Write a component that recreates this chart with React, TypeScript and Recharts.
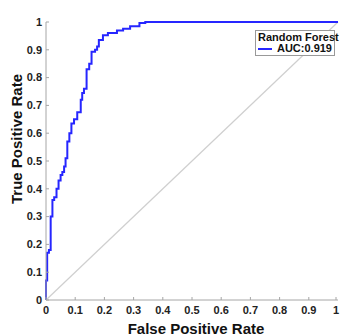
import {
  LineChart,
  Line,
  XAxis,
  YAxis,
  Legend,
} from "recharts";

// ROC points (top of each vertical step)
const fpr = [
  0, 0, 0.004, 0.01, 0.016, 0.022, 0.028, 0.036, 0.043, 0.05, 0.056, 0.062,
  0.067, 0.073, 0.08, 0.087, 0.096, 0.107, 0.119, 0.124, 0.13, 0.139, 0.148,
  0.156, 0.168, 0.175, 0.181, 0.195, 0.212, 0.243, 0.264, 0.288, 0.32, 0.34, 1,
];
const tpr = [
  0, 0.07, 0.17, 0.18, 0.3, 0.36, 0.37, 0.4, 0.43, 0.45, 0.46, 0.48, 0.51,
  0.57, 0.6, 0.635, 0.65, 0.675, 0.72, 0.745, 0.76, 0.83, 0.85, 0.893, 0.9,
  0.912, 0.935, 0.952, 0.96, 0.969, 0.976, 0.985, 0.996, 1, 1,
];
const chanceX = [0, 1];
const chanceY = [0, 1];
const ticks = [0, 0.1, 0.2, 0.3, 0.4, 0.5, 0.6, 0.7, 0.8, 0.9, 1];

const modelName = "Random Forest";
const aucLabel = "AUC:0.919";

const rocData = fpr.map((x, i) => ({ fpr: x, tpr: tpr[i] }));
const chanceData = chanceX.map((x, i) => ({ fpr: x, tpr: chanceY[i] }));

const FONT = "'Liberation Sans', Arial, sans-serif";
const BLUE = "#2626ff";
const FRAME = "#a6a6a6";

function XTick({ x, y, payload }: any) {
  return (
    <g>
      <line x1={x} x2={x} y1={y - 6} y2={y - 9} stroke={FRAME} />
      <text
        x={x}
        y={y}
        dy="0.71em"
        textAnchor="middle"
        fontSize={11}
        fontWeight="bold"
        fill="#222"
      >
        {payload.value}
      </text>
    </g>
  );
}

function YTick({ x, y, payload }: any) {
  return (
    <g>
      <line x1={x + 4} x2={x + 7} y1={y} y2={y} stroke={FRAME} />
      <text
        x={x}
        y={y}
        dy="0.35em"
        textAnchor="end"
        fontSize={11}
        fontWeight="bold"
        fill="#222"
      >
        {payload.value}
      </text>
    </g>
  );
}

function YLabel({ viewBox }: any) {
  const cx = 16;
  const cy = viewBox.y + viewBox.height / 2 - 22;
  return (
    <text
      x={cx}
      y={cy}
      transform={`rotate(-90 ${cx} ${cy})`}
      textAnchor="middle"
      dominantBaseline="central"
      fontSize={15}
      fontWeight="bold"
      fill="#111"
    >
      True Positive Rate
    </text>
  );
}

function LegendBox({ payload }: any) {
  const items = (payload || []).filter((p: any) => p.type !== "none");
  return (
    <div
      style={{
        border: "1px solid #999",
        background: "#fff",
        padding: "1px 2px 1px 2px",
        fontFamily: FONT,
        fontSize: 11,
        fontWeight: "bold",
        lineHeight: "11px",
        color: "#111",
        textAlign: "right",
        whiteSpace: "nowrap",
      }}
    >
      <div>{modelName}</div>
      {items.map((p: any) => (
        <div
          key={p.value}
          style={{ display: "flex", alignItems: "center", justifyContent: "flex-end" }}
        >
          <span
            style={{
              display: "inline-block",
              width: 20,
              height: 2,
              background: p.color,
              marginRight: 5,
            }}
          />
          <span>{p.value}</span>
        </div>
      ))}
    </div>
  );
}

export default function App() {
  return (
    <div style={{ position: "absolute", left: 0, top: 0, fontFamily: FONT }}>
      <LineChart
        width={340}
        height={336}
        margin={{ top: 22, right: 2, left: 0, bottom: 0 }}
        style={{ fontFamily: FONT }}
      >
        <XAxis
          xAxisId="main"
          dataKey="fpr"
          type="number"
          domain={[0, 1]}
          ticks={ticks}
          height={36}
          tickSize={0}
          tickMargin={6}
          tick={<XTick />}
          axisLine={{ stroke: FRAME }}
          label={{
            value: "False Positive Rate",
            position: "insideBottom",
            offset: 2,
            dx: 4,
            fontSize: 15,
            fontWeight: "bold",
            fill: "#111",
          }}
        />
        <XAxis
          xAxisId="top"
          orientation="top"
          dataKey="fpr"
          type="number"
          domain={[0, 1]}
          height={0}
          tick={false}
          tickLine={false}
          axisLine={{ stroke: FRAME }}
          label={{
            value: "ROC",
            position: "top",
            offset: 5,
            dx: 2,
            fontSize: 11,
            fontWeight: "bold",
            fill: "#222",
          }}
        />
        <YAxis
          yAxisId="main"
          dataKey="tpr"
          type="number"
          domain={[0, 1]}
          ticks={ticks}
          width={46}
          tickSize={0}
          tickMargin={4}
          tick={<YTick />}
          axisLine={{ stroke: FRAME }}
          label={<YLabel />}
        />
        <YAxis
          yAxisId="right"
          orientation="right"
          type="number"
          domain={[0, 1]}
          width={0}
          tick={false}
          tickLine={false}
          axisLine={{ stroke: FRAME }}
        />
        <Legend
          layout="vertical"
          align="center"
          verticalAlign="middle"
          wrapperStyle={{ left: 255, top: 30, width: 80 }}
          content={<LegendBox />}
        />
        <Line
          xAxisId="main"
          yAxisId="main"
          data={chanceData}
          dataKey="tpr"
          type="linear"
          stroke="#cfcfcf"
          strokeWidth={1.2}
          dot={false}
          legendType="none"
          isAnimationActive={false}
        />
        <Line
          xAxisId="main"
          yAxisId="main"
          data={rocData}
          dataKey="tpr"
          name={aucLabel}
          type="stepAfter"
          stroke={BLUE}
          strokeWidth={2}
          dot={false}
          isAnimationActive={false}
        />
      </LineChart>
    </div>
  );
}
